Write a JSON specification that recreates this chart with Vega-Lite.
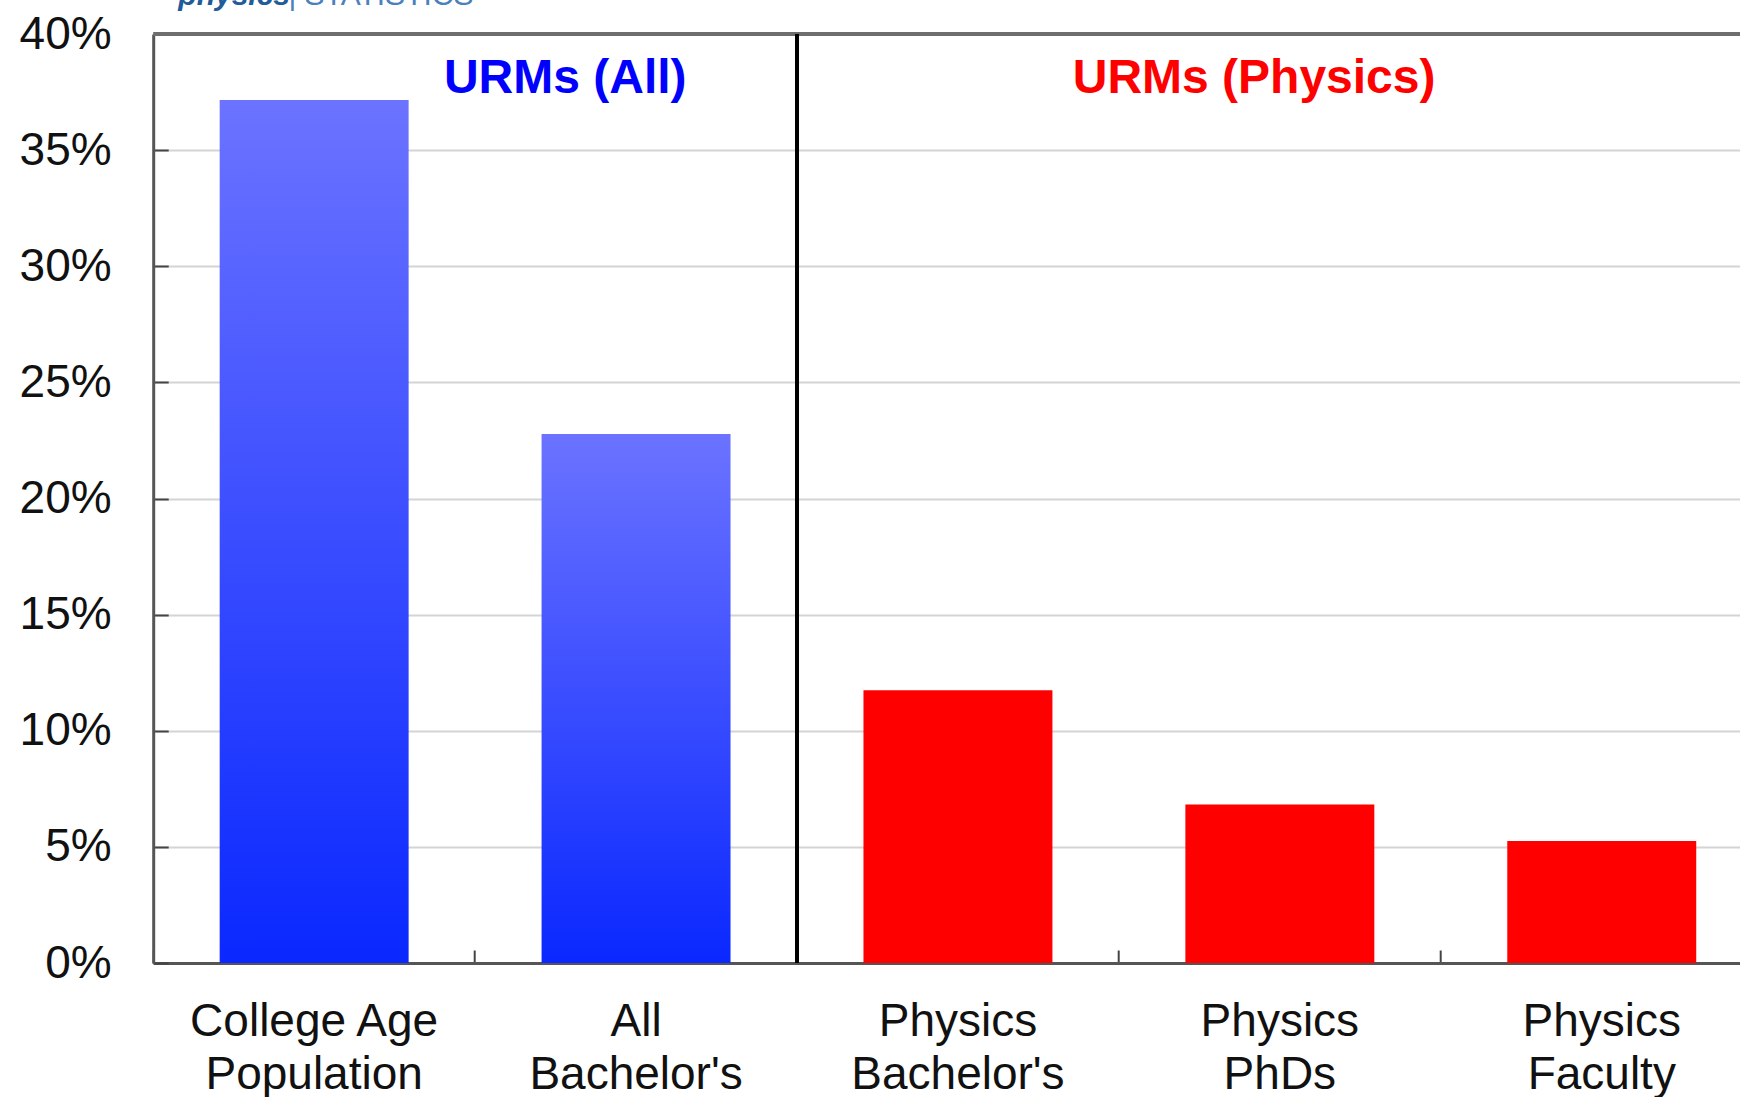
{
  "$schema": "https://vega.github.io/schema/vega-lite/v6.json",
  "width": 1586.8,
  "height": 929,
  "autosize": "none",
  "padding": {"left": 153.2, "top": 34, "right": 0, "bottom": 134},
  "background": "white",
  "config": {"view": {"stroke": null}, "font": "Liberation Sans"},
  "datasets": {
    "bars": [
      {"cat": "College Age|Population", "group": "All", "share": 37.16},
      {"cat": "All|Bachelor's", "group": "All", "share": 22.78},
      {"cat": "Physics|Bachelor's", "group": "Physics", "share": 11.74},
      {"cat": "Physics|PhDs", "group": "Physics", "share": 6.82},
      {"cat": "Physics|Faculty", "group": "Physics", "share": 5.25}
    ]
  },
  "layer": [
    {
      "data": {"name": "bars"},
      "transform": [{"filter": "datum.group === 'All'"}],
      "mark": {"type": "bar", "width": {"band": 0.587},
        "color": {"gradient": "linear", "x1": 0, "y1": 0, "x2": 0, "y2": 1,
          "stops": [{"offset": 0, "color": "#6b73ff"}, {"offset": 1, "color": "#0a28ff"}]}},
      "encoding": {
        "x": {"field": "cat", "type": "nominal", "sort": null,
          "scale": {"domain": ["College Age|Population", "All|Bachelor's", "Physics|Bachelor's", "Physics|PhDs", "Physics|Faculty"],
            "range": [0, 1609.5], "paddingInner": 0, "paddingOuter": 0},
          "axis": {"title": null, "labelAngle": 0, "labelExpr": "split(datum.label, '|')",
            "labelFontSize": 46, "labelLineHeight": 53, "labelPadding": 49, "labelColor": "#111", "labelLimit": 0,
            "bandPosition": 0, "tickSize": -13, "tickWidth": 2, "tickColor": "#444",
            "domainColor": "#555", "domainWidth": 3, "grid": false}},
        "y": {"field": "share", "type": "quantitative",
          "scale": {"domain": [0, 40], "nice": false},
          "axis": {"title": null, "values": [0, 5, 10, 15, 20, 25, 30, 35, 40],
            "labelExpr": "datum.value + '%'", "labelFontSize": 46, "labelColor": "#111",
            "labelPadding": 57, "tickSize": -15, "tickWidth": 2, "tickColor": "#444",
            "domainColor": "#555", "domainWidth": 3,
            "grid": true, "gridColor": "#d4d4d4", "gridWidth": 2}}
      }
    },
    {
      "data": {"name": "bars"},
      "transform": [{"filter": "datum.group === 'Physics'"}],
      "mark": {"type": "bar", "width": {"band": 0.587}, "color": "#ff0000"},
      "encoding": {
        "x": {"field": "cat", "type": "nominal", "sort": null},
        "y": {"field": "share", "type": "quantitative"}
      }
    },
    {
      "data": {"values": [{"level": 40}]},
      "mark": {"type": "rule", "color": "#6e6e6e", "strokeWidth": 4},
      "encoding": {"y": {"field": "level", "type": "quantitative"}}
    },
    {
      "data": {"values": [{"cat": "Physics|Bachelor's"}]},
      "mark": {"type": "rule", "color": "#000000", "strokeWidth": 4},
      "encoding": {"x": {"field": "cat", "type": "nominal", "bandPosition": 0}}
    },
    {
      "data": {"values": [{"cat": "All|Bachelor's", "label": "URMs (All)", "level": 38.06}]},
      "mark": {"type": "text", "fontSize": 48, "fontWeight": "bold", "color": "#0000ff", "align": "center", "baseline": "middle"},
      "encoding": {
        "x": {"field": "cat", "type": "nominal", "bandPosition": 0.28},
        "y": {"field": "level", "type": "quantitative"},
        "text": {"field": "label"}
      }
    },
    {
      "data": {"values": [{"cat": "Physics|PhDs", "label": "URMs (Physics)", "level": 38.06}]},
      "mark": {"type": "text", "fontSize": 48, "fontWeight": "bold", "color": "#ff0000", "align": "center", "baseline": "middle"},
      "encoding": {
        "x": {"field": "cat", "type": "nominal", "bandPosition": 0.42},
        "y": {"field": "level", "type": "quantitative"},
        "text": {"field": "label"}
      }
    },
    {
      "data": {"values": [{"cat": "College Age|Population", "label": "physics", "level": 41.27}]},
      "mark": {"type": "text", "fontSize": 30, "fontWeight": "bold", "fontStyle": "italic", "color": "#1f5c99", "align": "left", "baseline": "alphabetic"},
      "encoding": {
        "x": {"field": "cat", "type": "nominal", "bandPosition": 0.078},
        "y": {"field": "level", "type": "quantitative"},
        "text": {"field": "label"}
      }
    },
    {
      "data": {"values": [{"cat": "College Age|Population", "label": "| STATISTICS", "level": 41.27}]},
      "mark": {"type": "text", "fontSize": 30, "color": "#4a80bb", "align": "left", "baseline": "alphabetic"},
      "encoding": {
        "x": {"field": "cat", "type": "nominal", "bandPosition": 0.42},
        "y": {"field": "level", "type": "quantitative"},
        "text": {"field": "label"}
      }
    }
  ]
}
